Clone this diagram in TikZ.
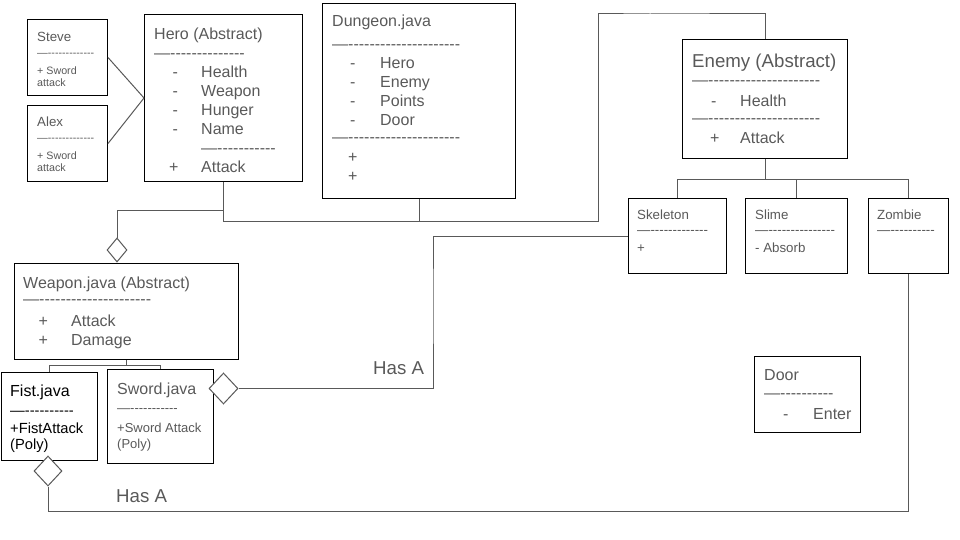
\documentclass[tikz,border=0pt]{standalone}
\usepackage{fontspec}
\setmainfont{Liberation Sans}[Ligatures=TeXOff]
\usetikzlibrary{shapes.geometric}
\definecolor{linegray}{RGB}{89,89,89}
\definecolor{textgray}{RGB}{89,89,89}
\tikzstyle{block} = [rectangle, draw=black, line width=1pt, anchor=north west, inner sep=0pt]
\tikzstyle{txt} = [anchor=north west, align=left, inner sep=0pt, text=textgray]
\tikzstyle{agg} = [diamond, draw=linegray, fill=white, line width=1pt, inner sep=0pt]
\tikzstyle{note} = [anchor=base west, inner sep=0pt, text=textgray, font=\fontsize{18.67}{22}\selectfont]
\tikzstyle{line} = [draw=linegray, line width=1pt]
\newcommand{\fs}[2]{\fontsize{#1}{#2}\selectfont}
\newcommand{\entry}[4]{\hspace*{#1pt}\makebox[#2pt][l]{#3}#4}
% first line always 20pt above its baseline, so a text node is placed at (x, baseline-20)
\newcommand{\topline}{\rule{0pt}{20pt}}

\begin{document}
\begin{tikzpicture}[x=1pt, y=-1pt]
	\useasboundingbox (0,0) rectangle (960,540);

	% class boxes
	\node [block, minimum width=80pt, minimum height=76pt] (steve) at (27,19) {};
	\node [block, minimum width=80pt, minimum height=76pt] (alex) at (27,105) {};
	\node [block, minimum width=158pt, minimum height=167pt] (hero) at (144,14) {};
	\node [block, minimum width=193pt, minimum height=195pt] (dungeon) at (322,3) {};
	\node [block, minimum width=165pt, minimum height=119pt] (enemy) at (682,39) {};
	\node [block, minimum width=98pt, minimum height=75pt] (skeleton) at (628,198) {};
	\node [block, minimum width=102pt, minimum height=75pt] (slime) at (745,198) {};
	\node [block, minimum width=80pt, minimum height=75pt] (zombie) at (868,198) {};
	\node [block, minimum width=224pt, minimum height=96pt] (weapon) at (14,263) {};
	\node [block, minimum width=96pt, minimum height=88pt] (fist) at (1,372) {};
	\node [block, minimum width=106pt, minimum height=94pt] (sword) at (107,369) {};
	\node [block, minimum width=106pt, minimum height=76pt] (door) at (754,356) {};

	% box contents
	\node [txt, font=\fs{10.7}{12.7}] (steve text) at (37,21.7) {\topline{\fs{13.3}{15}Steve}\\[1.8pt] —-------------\\[5.1pt] + Sword\\ attack};
	\node [txt, font=\fs{10.7}{12.7}] (alex text) at (37,106.7) {\topline{\fs{13.3}{15}Alex}\\[1.8pt] —-------------\\[5.1pt] + Sword\\ attack};
	\node [txt, font=\fs{16}{19}] (hero text) at (154,19.5) {\topline Hero (Abstract)\\ —--------------\\ \entry{18.5}{28.5}{-}{Health}\\ \entry{18.5}{28.5}{-}{Weapon}\\ \entry{18.5}{28.5}{-}{Hunger}\\ \entry{18.5}{28.5}{-}{Name}\\ \hspace*{47pt}—-----------\\ \entry{15}{32}{+}{Attack}};
	\node [txt, font=\fs{16}{19}] (dungeon text) at (332,6) {\topline Dungeon.java\\[4pt] —---------------------\\ \entry{18}{30}{-}{Hero}\\ \entry{18}{30}{-}{Enemy}\\ \entry{18}{30}{-}{Points}\\ \entry{18}{30}{-}{Door}\\[-1.5pt] —---------------------\\[1pt] \entry{16}{10}{+}{}\\ \entry{16}{10}{+}{}};
	\node [txt, font=\fs{16}{19}] (enemy text) at (692,47.7) {\topline{\fs{18.67}{19}Enemy (Abstract)}\\[-1pt] —---------------------\\[1.5pt] \entry{19}{29}{-}{Health}\\[-1.5pt] —---------------------\\[1pt] \entry{18}{30}{+}{Attack}};
	\node [txt, font=\fs{13.3}{15.6}] (skeleton text) at (637,199) {\topline Skeleton\\ —-------------\\[2.2pt] +};
	\node [txt, font=\fs{13.3}{15.6}] (slime text) at (755,199) {\topline Slime\\ —---------------\\[2.2pt] - Absorb};
	\node [txt, font=\fs{13.3}{15.6}] (zombie text) at (877,199) {\topline Zombie\\ —----------};
	\node [txt, font=\fs{16}{19}] (weapon text) at (23,268.3) {\topline Weapon.java (Abstract)\\[-3pt] —---------------------\\[3pt] \entry{15.5}{32.5}{+}{Attack}\\ \entry{15.5}{32.5}{+}{Damage}};
	\node [txt, text=black, font=\fs{14.7}{17}] (fist text) at (10,376.7) {\topline{\fs{16}{17}Fist.java}\\[1.7pt] —----------\\[0.6pt] +FistAttack\\[-0.7pt] (Poly)};
	\node [txt, font=\fs{13}{16}] (sword text) at (117,374.3) {\topline{\fs{16}{16}Sword.java}\\[2.1pt] —-----------\\[3.9pt] +Sword Attack\\ (Poly)};
	\node [txt, font=\fs{16}{19}] (door text) at (764,360.7) {\topline Door\\[-1.3pt] —----------\\[1.6pt] \entry{19}{30}{-}{Enter}};

	% has-a diamonds
	\node [agg, minimum width=20pt, minimum height=24pt] (wdia) at (117,250) {};
	\node [agg, minimum width=29pt, minimum height=31pt] (sdia) at (223.5,388.5) {};
	\node [agg, minimum width=28pt, minimum height=30pt] (fdia) at (48,471) {};

	% connectors
	\path [line] (steve.east) -- (hero.west);
	\path [line] (alex.east) -- (hero.west);

	\coordinate (bend) at (598,221);
	\coordinate (top) at (650,14);
	\path [line] (hero.south) |- (bend) |- (top) -| (enemy.north);
	\path [line] (dungeon.south) -- (dungeon.south |- bend);
	\path [line] ([yshift=-28pt]hero.south) -| (wdia.north);

	\foreach \sub in {skeleton,slime,zombie}
		\path [line] (enemy.south) -- ++(0,21) -| (\sub.north);

	\path [line] (weapon.south) -- ++(0,5) -| (fist.north);
	\path [line] (weapon.south) -- ++(0,5) -| (sword.north);

	\coordinate (elbow) at (433,300);
	\path [line] (sdia.east) -| (elbow) |- (skeleton.west);
	\path [line] (fdia.south) -- ++(0,25) -| (zombie.south);

	\node [note] (hasa sword) at (373,374) {Has A};
	\node [note] (hasa fist) at (116,502) {Has A};
\end{tikzpicture}
\end{document}
